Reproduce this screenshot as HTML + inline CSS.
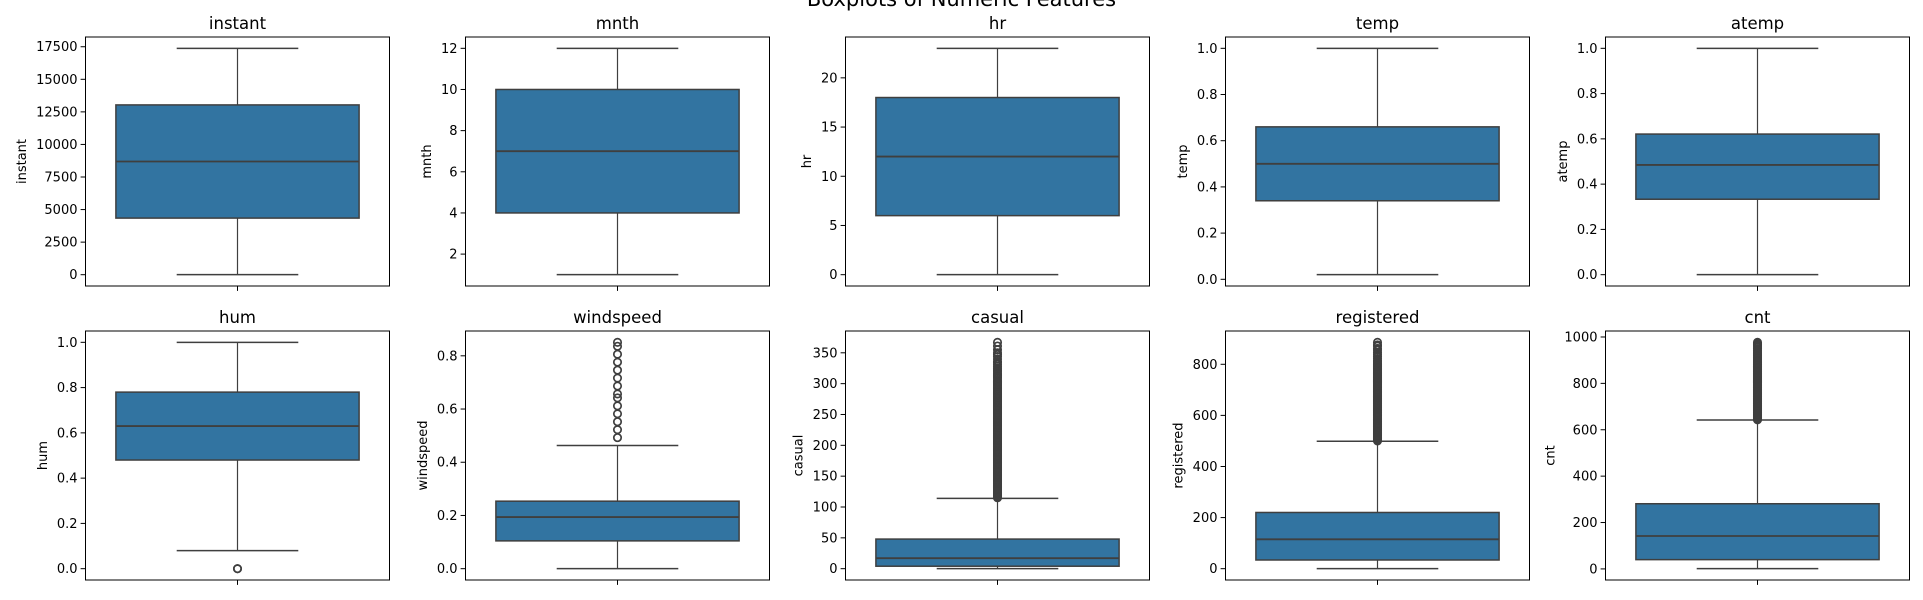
<!DOCTYPE html>
<html><head><meta charset="utf-8"><style>
html,body{margin:0;padding:0;background:#fff;}
svg{display:block;font-family:"DejaVu Sans","Liberation Sans",sans-serif;}
</style></head><body>
<svg id="chart" width="1923" height="600" viewBox="0 0 1923 600" xmlns="http://www.w3.org/2000/svg">
<text x="961.5" y="6" text-anchor="middle" font-size="21" fill="#000">Boxplots of Numeric Features</text>
</svg>
<script>
const features = ["instant","mnth","hr","temp","atemp","hum","windspeed","casual","registered","cnt"];
const whiskerLow = [1, 1, 0, 0.02, 0, 0.08, 0, 0, 0, 1];
const q1Values = [4345, 4, 6, 0.34, 0.3333, 0.48, 0.1045, 4, 34, 40];
const medianValues = [8690, 7, 12, 0.50, 0.4848, 0.63, 0.194, 17, 115, 142];
const q3Values = [13034, 10, 18, 0.66, 0.6212, 0.78, 0.2537, 48, 220, 281];
const whiskerHigh = [17379, 12, 23, 1.0, 1.0, 1.0, 0.4627, 114, 499, 642];
const outliersHum = [0, 0];
const outliersWind = [0.4925,0.5224,0.5522,0.5821,0.6119,0.6418,0.6567,0.6866,0.7164,0.7463,0.7761,0.806,0.8358,0.8507];
const outliersCasual = [115,116.5,118,119.5,121,122.5,124,125.5,127,128.5,130,131.5,133,134.5,136,137.5,139,140.5,142,143.5,145,146.5,148,149.5,151,152.5,154,155.5,157,158.5,160,161.5,163,164.5,166,167.5,169,170.5,172,173.5,175,176.5,178,179.5,181,182.5,184,185.5,187,188.5,190,191.5,193,194.5,196,197.5,199,200.5,202,203.5,205,206.5,208,209.5,211,212.5,214,215.5,217,218.5,220,221.5,223,224.5,226,227.5,229,230.5,232,233.5,235,236.5,238,239.5,241,242.5,244,245.5,247,248.5,250,251.5,253,254.5,256,257.5,259,260.5,262,263.5,265,266.5,268,269.5,271,272.5,274,275.5,277,278.5,280,281.5,283,284.5,286,287.5,289,290.5,292,294,296,298,300,302,304,306,309,311,313,315,317,320,322,325,328,331,334,336,340,344,347,350,355,361,367];
const outliersRegistered = [500,503,505,508,510,513,515,518,520,523,525,528,530,533,535,538,540,543,545,548,550,553,555,558,560,563,565,568,570,573,575,578,580,583,585,588,590,593,595,598,600,603,605,608,610,613,615,618,620,623,625,628,630,633,635,638,640,643,645,648,650,653,655,658,660,663,665,668,670,673,675,678,680,683,685,688,690,693,695,698,700,703,705,708,710,713,715,718,720,723,725,728,730,733,735,738,740,743,745,748,750,753,755,758,760,763,765,768,770,773,775,778,780,783,785,788,790,793,795,798,800,805,810,815,822,830,839,846,856,862,871,876,886];
const outliersCnt = [643,646,649,652,655,658,661,664,667,670,673,676,679,682,685,688,691,694,697,700,703,706,709,712,715,718,721,724,727,730,733,736,739,742,745,748,751,754,757,760,763,766,769,772,775,778,781,784,787,790,793,796,799,802,805,808,811,814,817,820,823,826,829,832,835,838,841,844,847,850,853,856,859,862,865,868,871,874,877,880,883,886,889,892,895,900,905,910,914,920,925,930,935,943,950,957,962,967,972,977];
const outlierSets = [[],[],[],[],[],outliersHum,outliersWind,outliersCasual,outliersRegistered,outliersCnt];
const tickInstant = [0,2500,5000,7500,10000,12500,15000,17500];
const tickMnth = [2,4,6,8,10,12];
const tickHr = [0,5,10,15,20];
const tickUnit = ["0.0","0.2","0.4","0.6","0.8","1.0"];
const tickWind = ["0.0","0.2","0.4","0.6","0.8"];
const tickCasual = [0,50,100,150,200,250,300,350];
const tickRegistered = [0,200,400,600,800];
const tickCnt = [0,200,400,600,800,1000];
const tickSets = [tickInstant,tickMnth,tickHr,tickUnit,tickUnit,tickUnit,tickWind,tickCasual,tickRegistered,tickCnt];

const NS = "http://www.w3.org/2000/svg";
const svg = document.getElementById("chart");
function mk(tag, attrs, parent){
  const e = document.createElementNS(NS, tag);
  for (const k in attrs) e.setAttribute(k, attrs[k]);
  (parent||svg).appendChild(e);
  return e;
}
const W = 304, rowTop = [37, 331], rowBot = [286, 580];
const LC = "#3f3f3f", FILL = "#3274a1";
features.forEach((name, i) => {
  const row = Math.floor(i/5), col = i%5;
  const left = 85.5 + col*380, right = left + W;
  const top = rowTop[row], bot = rowBot[row];
  const g = mk("g", {});
  
  
  const outs = outlierSets[i];
  let lo = whiskerLow[i], hi = whiskerHigh[i];
  outs.forEach(v => { lo = Math.min(lo, v); hi = Math.max(hi, v); });
  const span = hi - lo, ymin = lo - 0.05*span, ymax = hi + 0.05*span;
  const y = v => bot - (v - ymin)/(ymax - ymin)*(bot - top);
  const cx = left + W/2, bw = W*0.8, cw = W*0.4;
  let maxw = 0;
  tickSets[i].forEach(t => {
    const v = parseFloat(t), yy = y(v);
    const tk = mk("line", {x1:left-4.9, x2:left, y1:yy, y2:yy, stroke:"#000", "stroke-width":1}, g);
    
    
    const tl = mk("text", {x:left-8, y:yy+4.5, "text-anchor":"end", "font-size":13, fill:"#000"}, g);
    
    
    tl.textContent = String(t);
    const s = String(t); const w = s.replace(/\./g,"").length*8.3 + (s.includes(".")?4.1:0);
    maxw = Math.max(maxw, w);
  });
  const xt = mk("line", {x1:cx, x2:cx, y1:bot, y2:bot+4.9, stroke:"#000", "stroke-width":1}, g);
  
  
  const w1 = mk("line", {x1:cx, x2:cx, y1:y(q3Values[i]), y2:y(whiskerHigh[i]), stroke:LC, "stroke-width":1.2}, g);
  
  
  const w2 = mk("line", {x1:cx, x2:cx, y1:y(q1Values[i]), y2:y(whiskerLow[i]), stroke:LC, "stroke-width":1.2}, g);
  
  
  const c1 = mk("line", {x1:cx-cw/2, x2:cx+cw/2, y1:y(whiskerHigh[i]), y2:y(whiskerHigh[i]), stroke:LC, "stroke-width":1.5}, g);
  
  
  const c2 = mk("line", {x1:cx-cw/2, x2:cx+cw/2, y1:y(whiskerLow[i]), y2:y(whiskerLow[i]), stroke:LC, "stroke-width":1.5}, g);
  
  
  const bx = mk("rect", {x:cx-bw/2, y:y(q3Values[i]), width:bw, height:y(q1Values[i])-y(q3Values[i]), fill:FILL, stroke:LC, "stroke-width":1.5}, g);
  
  
  const md = mk("line", {x1:cx-bw/2, x2:cx+bw/2, y1:y(medianValues[i]), y2:y(medianValues[i]), stroke:LC, "stroke-width":1.8}, g);
  
  
  outs.forEach(v => {
    const o = mk("circle", {cx:cx, cy:y(v), r:3.7, fill:"none", stroke:LC, "stroke-width":1.7}, g);
    
    
  });
  const fr = mk("rect", {x:left, y:top, width:W, height:bot-top, fill:"none", stroke:"#000", "stroke-width":1}, g);
  
  
  const tt = mk("text", {x:cx, y:top-8, "text-anchor":"middle", "font-size":16.5, fill:"#000"}, g);
  
  
  tt.textContent = name;
  const lx = left - 8 - maxw - 10;
  const yl = mk("text", {x:lx, y:(top+bot)/2, "text-anchor":"middle", "font-size":13, fill:"#000", transform:`rotate(-90 ${lx} ${(top+bot)/2})`}, g);
  
  
  yl.textContent = name;
});
</script>
</body></html>
